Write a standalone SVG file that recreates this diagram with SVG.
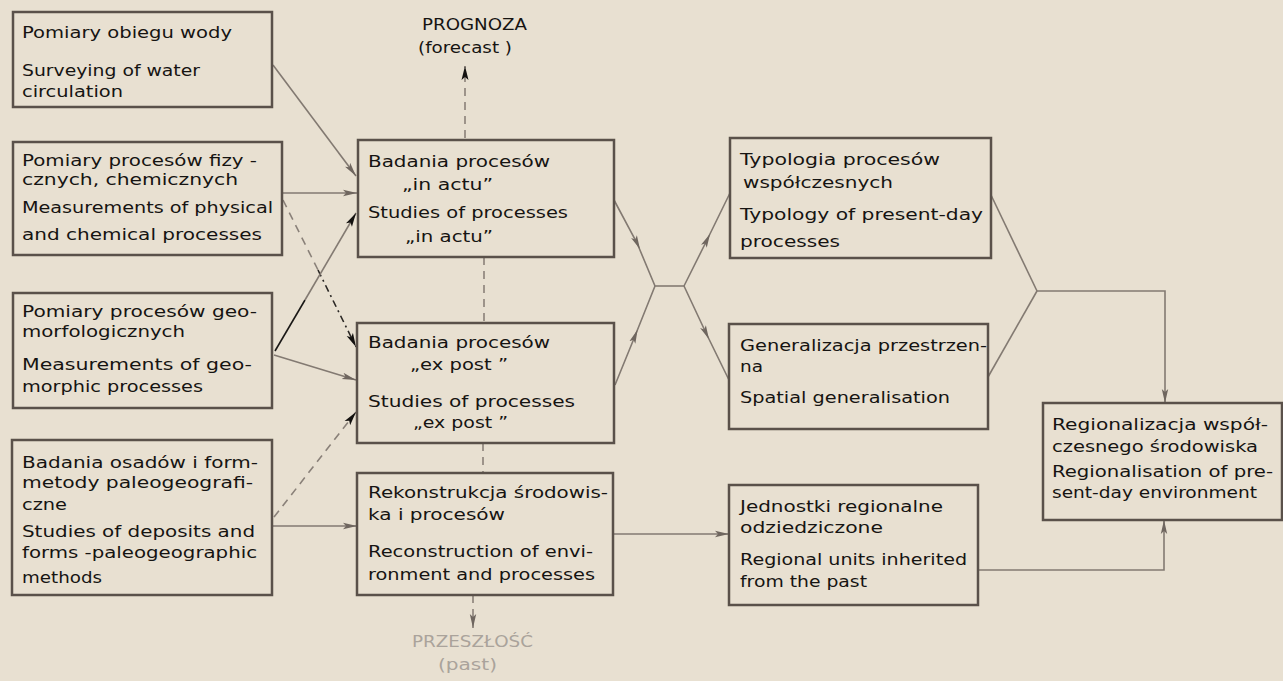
<svg xmlns="http://www.w3.org/2000/svg" width="1283" height="681" viewBox="0 0 1283 681">
<style>
.bg{fill:#e8e0d1}
.box{fill:none;stroke:#5a514a;stroke-width:2.5}
text{font-family:"DejaVu Sans","Liberation Sans",sans-serif;font-size:16px;fill:#161412}
.c{fill:none;stroke:#837a72;stroke-width:1.6}
.cb{fill:none;stroke:#1a1816;stroke-width:1.6}
.d{fill:none;stroke:#8a8179;stroke-width:1.6;stroke-dasharray:8 6}
.db{fill:none;stroke:#2a2724;stroke-width:1.6;stroke-dasharray:7 4 2 4}
.lt{fill:#aaa39b}
</style>
<defs>
<marker id="ag" viewBox="0 0 14 8" refX="14" refY="4" markerWidth="14" markerHeight="8" markerUnits="userSpaceOnUse" orient="auto"><path d="M0,0.8 L14,4 L0,7.2 L3,4 Z" fill="#6f665f"/></marker>
<marker id="ab" viewBox="0 0 14 8" refX="14" refY="4" markerWidth="14" markerHeight="8" markerUnits="userSpaceOnUse" orient="auto"><path d="M0,0.5 L14,4 L0,7.5 L3,4 Z" fill="#141210"/></marker>
<marker id="am" viewBox="0 0 14 8" refX="7" refY="4" markerWidth="14" markerHeight="8" markerUnits="userSpaceOnUse" orient="auto"><path d="M0,0.8 L14,4 L0,7.2 L3,4 Z" fill="#6f665f"/></marker>
</defs>
<rect class="bg" x="0" y="0" width="1283" height="681"/>

<g id="connectors">
<path class="c" d="M273,65 L356,176" marker-end="url(#ag)"/>
<path class="c" d="M283,193 L357,193" marker-end="url(#ag)"/>
<path class="d" d="M283,200 L318,270"/>
<path class="db" d="M318,270 L356,347" marker-end="url(#ab)"/>
<path class="cb" d="M275,351 L305,300"/>
<path class="c" d="M305,300 L356,213" marker-end="url(#ab)"/>
<path class="c" d="M274,355 L356,380" marker-end="url(#ag)"/>
<path class="d" d="M274,517 L356,412" marker-end="url(#ab)"/>
<path class="c" d="M273,526 L357,526" marker-end="url(#ag)"/>
<path class="c" d="M614,534 L729,534" marker-end="url(#ag)"/>
<path class="c" d="M614,200 L637,243 L655,286" marker-mid="url(#am)"/>
<path class="c" d="M615,385 L635,336 L655,286" marker-mid="url(#am)"/>
<path class="c" d="M655,286 L684,286"/>
<path class="c" d="M684,286 L707,240 L730,193" marker-mid="url(#am)"/>
<path class="c" d="M684,286 L706,333 L729,380" marker-mid="url(#am)"/>
<path class="c" d="M991,195 L1037,291"/>
<path class="c" d="M988,377 L1037,291"/>
<path class="c" d="M1037,291 L1165,291 L1165,403" marker-end="url(#ag)"/>
<path class="c" d="M978,570 L1164,570 L1164,520" marker-end="url(#ag)"/>
<path class="d" d="M465,138 L465,66" marker-end="url(#ab)"/>
<path class="d" d="M484,257 L484,323"/>
<path class="d" d="M483,443 L483,473"/>
<path class="d" d="M473,595 L473,628" marker-end="url(#ag)"/>
</g>

<g id="n1">
<rect class="box" x="13" y="12" width="259" height="95"/>
<text x="22" y="38" textLength="210" lengthAdjust="spacingAndGlyphs">Pomiary obiegu wody</text>
<text x="22" y="76" textLength="178" lengthAdjust="spacingAndGlyphs">Surveying of water</text>
<text x="22" y="97" textLength="101" lengthAdjust="spacingAndGlyphs">circulation</text>
</g>

<g id="n2">
<rect class="box" x="13" y="142" width="269" height="113"/>
<text x="22" y="166" textLength="235" lengthAdjust="spacingAndGlyphs">Pomiary procesów fizy -</text>
<text x="22" y="185" textLength="216" lengthAdjust="spacingAndGlyphs">cznych, chemicznych</text>
<text x="22" y="213" textLength="251" lengthAdjust="spacingAndGlyphs">Measurements of physical</text>
<text x="22" y="240" textLength="240" lengthAdjust="spacingAndGlyphs">and chemical processes</text>
</g>

<g id="n3">
<rect class="box" x="13" y="293" width="259" height="115"/>
<text x="22" y="317" textLength="235" lengthAdjust="spacingAndGlyphs">Pomiary procesów geo-</text>
<text x="22" y="337" textLength="163" lengthAdjust="spacingAndGlyphs">morfologicznych</text>
<text x="22" y="370" textLength="230" lengthAdjust="spacingAndGlyphs">Measurements of geo-</text>
<text x="22" y="392" textLength="181" lengthAdjust="spacingAndGlyphs">morphic processes</text>
</g>

<g id="n4">
<rect class="box" x="12" y="440" width="260" height="155"/>
<text x="22" y="468" textLength="236" lengthAdjust="spacingAndGlyphs">Badania osadów i form-</text>
<text x="22" y="488" textLength="231" lengthAdjust="spacingAndGlyphs">metody paleogeografi-</text>
<text x="22" y="510" textLength="45" lengthAdjust="spacingAndGlyphs">czne</text>
<text x="22" y="537" textLength="233" lengthAdjust="spacingAndGlyphs">Studies of deposits and</text>
<text x="22" y="558" textLength="235" lengthAdjust="spacingAndGlyphs">forms -paleogeographic</text>
<text x="22" y="583" textLength="80" lengthAdjust="spacingAndGlyphs">methods</text>
</g>

<g id="n5">
<rect class="box" x="358" y="140" width="256" height="117"/>
<text x="368" y="167" textLength="182" lengthAdjust="spacingAndGlyphs">Badania procesów</text>
<text x="402" y="190" textLength="91" lengthAdjust="spacingAndGlyphs">„in actu”</text>
<text x="368" y="218" textLength="200" lengthAdjust="spacingAndGlyphs">Studies of processes</text>
<text x="405" y="242" textLength="88" lengthAdjust="spacingAndGlyphs">„in actu”</text>
</g>

<g id="n6">
<rect class="box" x="357" y="323" width="257" height="120"/>
<text x="368" y="348" textLength="182" lengthAdjust="spacingAndGlyphs">Badania procesów</text>
<text x="410" y="370" textLength="98" lengthAdjust="spacingAndGlyphs">„ex post ”</text>
<text x="368" y="407" textLength="207" lengthAdjust="spacingAndGlyphs">Studies of processes</text>
<text x="413" y="428" textLength="95" lengthAdjust="spacingAndGlyphs">„ex post ”</text>
</g>

<g id="n7">
<rect class="box" x="357" y="473" width="256" height="122"/>
<text x="368" y="498" textLength="240" lengthAdjust="spacingAndGlyphs">Rekonstrukcja środowis-</text>
<text x="368" y="520" textLength="137" lengthAdjust="spacingAndGlyphs">ka i procesów</text>
<text x="368" y="557" textLength="225" lengthAdjust="spacingAndGlyphs">Reconstruction of envi-</text>
<text x="368" y="580" textLength="227" lengthAdjust="spacingAndGlyphs">ronment and processes</text>
</g>

<g id="n8">
<rect class="box" x="730" y="138" width="261" height="120"/>
<text x="740" y="165" textLength="200" lengthAdjust="spacingAndGlyphs">Typologia procesów</text>
<text x="743" y="188" textLength="150" lengthAdjust="spacingAndGlyphs">współczesnych</text>
<text x="740" y="220" textLength="243" lengthAdjust="spacingAndGlyphs">Typology of present-day</text>
<text x="740" y="247" textLength="100" lengthAdjust="spacingAndGlyphs">processes</text>
</g>

<g id="n9">
<rect class="box" x="729" y="324" width="259" height="105"/>
<text x="740" y="351" textLength="247" lengthAdjust="spacingAndGlyphs">Generalizacja przestrzen-</text>
<text x="740" y="372" textLength="23" lengthAdjust="spacingAndGlyphs">na</text>
<text x="740" y="403" textLength="210" lengthAdjust="spacingAndGlyphs">Spatial generalisation</text>
</g>

<g id="n10">
<rect class="box" x="729" y="485" width="249" height="120"/>
<text x="740" y="512" textLength="203" lengthAdjust="spacingAndGlyphs">Jednostki regionalne</text>
<text x="740" y="533" textLength="143" lengthAdjust="spacingAndGlyphs">odziedziczone</text>
<text x="740" y="565" textLength="227" lengthAdjust="spacingAndGlyphs">Regional units inherited</text>
<text x="740" y="587" textLength="127" lengthAdjust="spacingAndGlyphs">from the past</text>
</g>

<g id="n11">
<rect class="box" x="1043" y="403" width="239" height="117"/>
<text x="1052" y="430" textLength="216" lengthAdjust="spacingAndGlyphs">Regionalizacja współ-</text>
<text x="1052" y="452" textLength="206" lengthAdjust="spacingAndGlyphs">czesnego środowiska</text>
<text x="1052" y="477" textLength="221" lengthAdjust="spacingAndGlyphs">Regionalisation of pre-</text>
<text x="1052" y="498" textLength="205" lengthAdjust="spacingAndGlyphs">sent-day environment</text>
</g>

<g id="forecast">
<text x="422" y="30" textLength="105" lengthAdjust="spacingAndGlyphs">PROGNOZA</text>
<text x="418" y="53" textLength="94" lengthAdjust="spacingAndGlyphs">(forecast )</text>
</g>

<g id="past">
<text class="lt" x="412" y="647" textLength="121" lengthAdjust="spacingAndGlyphs">PRZESZŁOŚĆ</text>
<text class="lt" x="438" y="670" textLength="59" lengthAdjust="spacingAndGlyphs">(past)</text>
</g>
</svg>
